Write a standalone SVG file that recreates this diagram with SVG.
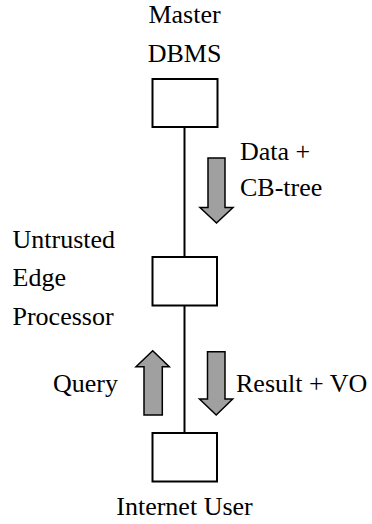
<svg xmlns="http://www.w3.org/2000/svg" width="372" height="524" viewBox="0 0 372 524">
<style>
text{font-family:'Liberation Serif','Times New Roman',serif;font-size:26px;fill:#000}
.box{fill:#fff;stroke:#000;stroke-width:2}
.line{stroke:#000;stroke-width:2;fill:none}
.arrow{fill:#a0a0a0;stroke:#000;stroke-width:1.5;stroke-linejoin:miter}
</style>
<rect width="372" height="524" fill="#fff"/>
<g id="connectors">
<line class="line" x1="184.5" y1="127" x2="184.5" y2="257"/>
<line class="line" x1="184.5" y1="305" x2="184.5" y2="433"/>
<path class="arrow" d="M208 158 H225 V207.5 H233 L216.5 223 L200 207.5 H208 Z"/>
<path class="arrow" d="M144 415 H162.3 V366.7 H169.3 L152.7 350.7 L136 366.7 H144 Z"/>
<path class="arrow" d="M207.5 351.7 H225 V399 H232.7 L216.2 415 L199.5 399 H207.5 Z"/>
<text x="240" y="160">Data +</text>
<text x="240" y="196">CB-tree</text>
<text x="53" y="391.5">Query</text>
<text x="236" y="391.5">Result + VO</text>
</g>
<g id="master">
<rect class="box" x="152.5" y="79" width="65" height="48"/>
<text x="184.5" y="23" text-anchor="middle">Master</text>
<text x="184.5" y="61.5" text-anchor="middle">DBMS</text>
</g>
<g id="edge">
<rect class="box" x="152.5" y="257" width="64.5" height="48.5"/>
<text x="12.5" y="247.5">Untrusted</text>
<text x="12.5" y="286">Edge</text>
<text x="12.5" y="324.5">Processor</text>
</g>
<g id="user">
<rect class="box" x="152.5" y="433" width="64.5" height="48.5"/>
<text x="184.5" y="515" text-anchor="middle">Internet User</text>
</g>
</svg>
